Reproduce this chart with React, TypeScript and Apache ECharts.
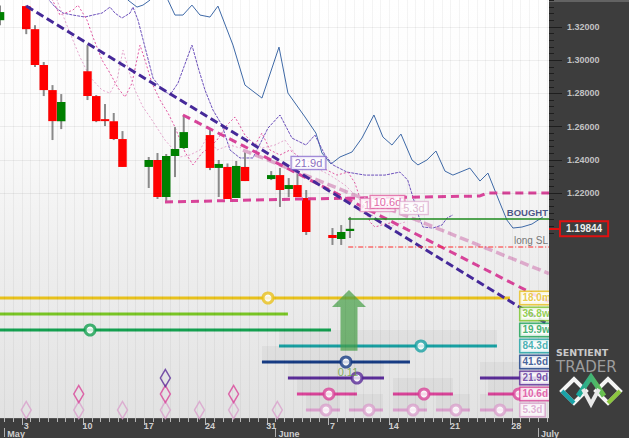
import React, { useEffect, useRef } from 'react';
import * as echarts from 'echarts';

// x = calendar day index (0 = Mon 3 May), y = price
const X_MIN = -3;
const X_MAX = 59.75;
const Y_MIN = 1.08446;
const Y_MAX = 1.33627;

// [day, open, close, low, high]
const candles: number[][] = [
  [-3, 1.3241, 1.329, 1.321, 1.333],
  [0, 1.3326, 1.3187, 1.3157, 1.333],
  [1, 1.3187, 1.2971, 1.2959, 1.3211],
  [2, 1.2971, 1.282, 1.2784, 1.2989],
  [3, 1.282, 1.2633, 1.2519, 1.285],
  [4, 1.2633, 1.2748, 1.2585, 1.2796],
  [7, 1.2934, 1.2784, 1.276, 1.3091],
  [8, 1.2784, 1.2633, 1.2627, 1.279],
  [9, 1.2645, 1.2633, 1.2603, 1.2736],
  [10, 1.2633, 1.2525, 1.2519, 1.2682],
  [11, 1.2525, 1.2357, 1.2357, 1.2573],
  [14, 1.2357, 1.2399, 1.223, 1.2417],
  [15, 1.2399, 1.2176, 1.2164, 1.2441],
  [16, 1.2176, 1.2423, 1.2146, 1.2435],
  [17, 1.2423, 1.2465, 1.2296, 1.2597],
  [18, 1.2471, 1.2567, 1.2465, 1.267],
  [21, 1.2549, 1.2351, 1.2338, 1.2579],
  [22, 1.2351, 1.2375, 1.2176, 1.2399],
  [23, 1.2357, 1.2164, 1.2164, 1.2378],
  [24, 1.217, 1.2363, 1.217, 1.2393],
  [25, 1.2357, 1.2272, 1.2272, 1.2447],
  [28, 1.2284, 1.2308, 1.2278, 1.2332],
  [29, 1.2308, 1.2218, 1.2116, 1.2351],
  [30, 1.2224, 1.2248, 1.2176, 1.229],
  [31, 1.2248, 1.2176, 1.2176, 1.2326],
  [32, 1.217, 1.1965, 1.1947, 1.2218],
  [35, 1.1947, 1.1929, 1.1887, 1.1989],
  [36, 1.1923, 1.1965, 1.1887, 1.2007],
  [37, 1.1971, 1.19844, 1.1929, 1.2056],
];
const lastPrice = 1.19844;

// thick dashed trend lines
const trendPurple = [[0, 1.33265], [59.75, 1.14048]];
const trendMagenta = [[17.91, 1.26699], [59.75, 1.15434]];
const trendPink = [[24.77, 1.2459], [59.75, 1.1715]];
const flatMagenta = [[15.86, 1.21458], [31.29, 1.21639], [45, 1.21759], [51.86, 1.2182], [52.66, 1.22], [59.75, 1.22]];

// thin cycle curves
const curveBlue = [
  [10.71, 1.3422], [11.63, 1.3362], [12.66, 1.332], [13.34, 1.3332], [14.14, 1.3362], [15.17, 1.3434],
  [16.2, 1.3362], [17.0, 1.3272], [17.91, 1.3272], [18.94, 1.3332], [19.86, 1.3272], [21.0, 1.326],
  [21.91, 1.3326], [23.63, 1.3091], [25.0, 1.285], [26.94, 1.2772], [28.89, 1.3079], [29.91, 1.2802],
  [31.86, 1.2658], [33.11, 1.2561], [33.8, 1.2441], [34.83, 1.2375], [35.86, 1.2417], [37.23, 1.2447],
  [38.37, 1.2531], [39.74, 1.267], [40.77, 1.2537], [41.8, 1.2489], [42.83, 1.2555], [44.09, 1.2399],
  [44.77, 1.2369], [45.8, 1.2399], [46.83, 1.2453], [47.86, 1.2332], [48.77, 1.2308], [50.71, 1.235],
  [51.86, 1.2272], [52.77, 1.232], [54.14, 1.214], [54.94, 1.2037], [55.63, 1.1989], [56.66, 1.1995],
  [57.8, 1.2013], [59.06, 1.2056],
];
const curvePurple = [
  [2.14, 1.3392], [3.29, 1.332], [4.2, 1.3284], [5.34, 1.3272], [6.71, 1.326], [7.63, 1.3272],
  [8.66, 1.3284], [9.57, 1.332], [10.14, 1.3284], [10.94, 1.3254], [11.86, 1.3284], [12.2, 1.332],
  [12.77, 1.3242], [13.57, 1.3079], [14.49, 1.2892], [15.29, 1.2838], [16.43, 1.279], [17.34, 1.2862],
  [18.94, 1.3091], [19.63, 1.2959], [20.43, 1.282], [21.34, 1.27], [22.37, 1.2609], [23.29, 1.2459],
  [24.43, 1.2411], [25.91, 1.2411], [27.63, 1.2591], [29.0, 1.267], [30.37, 1.2531], [31.97, 1.2489],
  [33.0, 1.2549], [34.14, 1.2429], [35.06, 1.2369], [36.66, 1.2326], [38.71, 1.2308], [41.0, 1.2308],
  [42.71, 1.2326], [43.6, 1.2278], [44.3, 1.2158], [44.89, 1.2056], [45.34, 1.1995], [46.49, 1.1989],
  [47.51, 1.2007], [48.09, 1.2049], [48.77, 1.2068],
];
const curveMagenta = [
  [2.71, 1.3392], [3.86, 1.3272], [5.34, 1.3302], [5.91, 1.3332], [6.94, 1.3242], [7.63, 1.3139],
  [8.66, 1.3001], [9.57, 1.2922], [10.49, 1.2832], [11.29, 1.2778], [12.09, 1.2862], [13.0, 1.3091],
  [13.57, 1.3001], [14.37, 1.2862], [15.29, 1.276], [16.2, 1.2682], [17.0, 1.2597], [18.14, 1.2447],
  [19.06, 1.2369], [20.09, 1.2441], [21.0, 1.2477], [21.8, 1.2519], [22.94, 1.2609], [23.86, 1.2658],
  [25.0, 1.2549], [26.14, 1.2489], [26.94, 1.2561], [27.86, 1.2459], [29.0, 1.2429], [30.14, 1.2459],
  [31.63, 1.2399], [33.0, 1.2381], [34.37, 1.2338], [35.51, 1.2308], [36.77, 1.2326], [37.57, 1.226],
  [38.14, 1.217], [38.71, 1.2116], [39.29, 1.2025], [39.86, 1.1995], [41.0, 1.2013], [42.14, 1.2025],
];
const curvePink = [
  [3.29, 1.3392], [5.0, 1.3163], [6.14, 1.3019], [7.29, 1.2898], [8.66, 1.282], [9.57, 1.2802],
  [10.37, 1.288], [11.06, 1.3061], [11.63, 1.2953], [12.43, 1.282], [13.34, 1.2718], [14.14, 1.2658],
  [15.86, 1.2519], [17.57, 1.2417], [18.71, 1.2429], [19.86, 1.2459], [20.66, 1.2537], [21.8, 1.2459],
  [23.29, 1.2489], [24.43, 1.2471], [25.57, 1.2519], [26.94, 1.2471], [28.43, 1.2489], [29.57, 1.2519],
  [30.83, 1.2429], [32.43, 1.2369], [34.71, 1.2308], [36.43, 1.2248], [38.14, 1.2158], [39.51, 1.2068],
  [40.66, 1.2013], [41.8, 1.2001], [43.29, 1.2025],
];

// trade lines
const boughtStart = 36.8;
const boughtPrice = 1.20434;
const stopPrice = 1.18747;

// floating tags in the price panel
const tagNames = ['21.9d', '10.6d', '10.6d', '5.3d'];
const tagDays = [32.26, 40.17, 41.29, 44.31];
const tagPrices = [1.2381, 1.2128, 1.2146, 1.211];

// x axis labels
const weekDays = [0, 7, 14, 21, 28, 35, 42, 49, 56];
const weekLabels = ['3', '10', '17', '24', '31', '7', '14', '21', '28'];
const monthDays = [-2.5, 28.5, 58.5];
const monthLabels = ['May', 'June', 'July'];
const priceLabels = [1.22, 1.24, 1.26, 1.28, 1.3, 1.32];

// cycle panel
const cycleNames = ['18.0m', '36.8w', '19.9w', '84.3d', '41.6d', '21.9d', '10.6d', '5.3d'];
// [row, start, end]
const cycleSegments = [
  [0, -3, 55.29], [1, -3, 29.91], [2, -3, 34.83], [3, 28.89, 53.8], [4, 26.94, 43.86],
  [5, 29.91, 40.89], [5, 51.86, 59.75], [6, 30.94, 37.8], [6, 41.91, 48.77], [6, 52.77, 59.75],
  [7, 31.97, 35.86], [7, 36.89, 40.77], [7, 41.91, 45.8], [7, 46.83, 50.71], [7, 51.86, 55.63],
];
// [row, day]
const cycleMarkers = [
  [0, 27.63], [2, 7.29], [3, 45.11], [4, 36.54], [5, 37.8], [6, 34.6], [6, 45.46], [6, 56.31],
  [7, 34.26], [7, 39.17], [7, 44.2], [7, 49.11], [7, 54.14],
];
const cycleDiamonds = [
  [7, 0], [7, 6], [7, 11], [7, 15.9], [7, 19.8], [7, 23.7], [7, 28.7],
  [6, 6], [6, 15.9], [6, 23.7], [5, 15.9],
];
const signalValue = '0.11';
const signalPos = [36.77, 5.13];
// [day, tipRow, headRow, baseRow]
const arrowData = [[36.89, 0, 1.06, 3.8]];

const cycleColors = ['#e8c11c', '#78c424', '#14a050', '#18a0a2', '#173c84', '#5a2c98', '#da4499', '#d9a0cc'];
const FONT = '"Liberation Sans", Arial, sans-serif';

function buildOption() {
  const halfDays: number[] = [];
  for (let d = -2.5; d < X_MAX; d += 1) halfDays.push(d);
  const minorPrices: number[] = [];
  for (let i = 0; i <= 35; i++) minorPrices.push(+(1.196 + i * 0.004).toFixed(3));
  const weekTicks = weekDays.map((d) => d - 0.5);

  const hiddenAxisBase = {
    axisLine: { show: false, onZero: false }, axisTick: { show: false }, axisLabel: { show: false }, splitLine: { show: false },
  };

  const tagColors = ['#6a4ab0', '#e07ab4', '#d9408f', '#d8a6c8'];
  const tagBorders = ['#8b6fd0', '#e490c0', '#e060a0', '#e0b2d2'];

  return {
    animation: false,
    backgroundColor: '#3d3d3d',
    textStyle: { fontFamily: FONT },
    grid: [
      {
        left: 0, top: 0, width: 549, height: 418, show: true, borderWidth: 0,
        backgroundColor: new echarts.graphic.LinearGradient(0, 0, 0, 1, [
          { offset: 0, color: '#ffffff' },
          { offset: 0.3, color: '#fbfbfb' },
          { offset: 0.62, color: '#eeeeee' },
          { offset: 1, color: '#e2e2e2' },
        ]),
      },
      { left: 0, top: 290, width: 549, height: 128, show: false },
    ],
    xAxis: [
      {
        type: 'value', gridIndex: 0, min: X_MIN, max: X_MAX, interval: 1, position: 'bottom', z: 5,
        axisLine: { show: true, onZero: false, lineStyle: { color: '#555555' } },
        axisTick: { show: true, customValues: halfDays, length: 4, lineStyle: { color: '#b8b8b8' } },
        axisLabel: {
          customValues: weekDays, margin: 3, color: '#cfcfcf', fontWeight: 'bold', fontSize: 9, fontFamily: FONT,
          formatter: (v: number) => weekLabels[weekDays.indexOf(Math.round(v))] ?? '',
        },
        splitLine: { show: true, lineStyle: { color: 'rgba(0,0,0,0.045)', width: 1 } },
      },
      {
        type: 'value', gridIndex: 0, min: X_MIN, max: X_MAX, position: 'bottom', offset: 10, z: 5,
        axisLine: { show: false, onZero: false },
        axisTick: { show: true, customValues: monthDays, length: 9, lineStyle: { color: '#b0b0b0' } },
        axisLabel: {
          customValues: monthDays, margin: 1, align: 'left', padding: [0, 0, 0, 3],
          showMinLabel: true, showMaxLabel: true,
          color: '#cfcfcf', fontWeight: 'bold', fontSize: 9, fontFamily: FONT,
          formatter: (v: number) => monthLabels[monthDays.indexOf(v)] ?? '',
        },
        splitLine: { show: false },
      },
      {
        type: 'value', gridIndex: 0, min: X_MIN, max: X_MAX, position: 'bottom', z: 5,
        axisLine: { show: false, onZero: false },
        axisTick: { show: true, customValues: weekTicks, length: 7, lineStyle: { color: '#b8b8b8' } },
        axisLabel: { show: false }, splitLine: { show: false },
      },
      { type: 'value', gridIndex: 1, min: X_MIN, max: X_MAX, ...hiddenAxisBase },
    ],
    yAxis: [
      {
        type: 'value', gridIndex: 0, min: Y_MIN, max: Y_MAX, position: 'right', z: 110,
        axisLine: { show: false, onZero: false },
        axisTick: { show: true, customValues: priceLabels, length: 13, lineStyle: { color: '#1e1e1e' } },
        axisLabel: {
          customValues: priceLabels, margin: 18, color: '#c2c2c2', fontWeight: 'bold', fontSize: 9, fontFamily: FONT,
          formatter: (v: number) => v.toFixed(5),
        },
        splitLine: { show: false },
      },
      {
        type: 'value', gridIndex: 0, min: Y_MIN, max: Y_MAX, position: 'right', z: 110,
        axisLine: { show: false, onZero: false },
        axisTick: { show: true, customValues: minorPrices, length: 5, lineStyle: { color: '#1e1e1e' } },
        axisLabel: { show: false }, splitLine: { show: false },
      },
      {
        type: 'value', gridIndex: 0, min: Y_MIN, max: Y_MAX, position: 'right', z: 115,
        axisLine: { show: false, onZero: false },
        axisTick: { show: true, customValues: [lastPrice], length: 12, lineStyle: { color: '#e01010', width: 2 } },
        axisLabel: {
          customValues: [lastPrice], margin: 12, color: '#eeeeee', fontWeight: 'bold', fontSize: 10, fontFamily: FONT,
          backgroundColor: '#3d3d3d', borderColor: '#e01010', borderWidth: 2, padding: [2, 5, 1, 5],
          formatter: (v: number) => v.toFixed(5),
        },
        splitLine: { show: false },
      },
      { type: 'value', gridIndex: 1, min: 0, max: 8, inverse: true, ...hiddenAxisBase },
    ],
    graphic: [
      { type: 'rect', z: 100, shape: { x: 549, y: 0, width: 80, height: 418 }, style: { fill: '#3d3d3d' }, silent: true },
      { type: 'line', z: 101, shape: { x1: 549, y1: 1, x2: 629, y2: 1 }, style: { stroke: '#8a8a8a', lineWidth: 1 } },
      {
        type: 'text', z: 120, x: 556, y: 347,
        style: { text: 'SENTIENT', fill: '#cacaca', font: 'bold 9.5px "DejaVu Sans", sans-serif' },
      },
      {
        type: 'text', z: 120, x: 556, y: 359,
        style: { text: 'TRADER', fill: '#9c9c9c', font: '15px "DejaVu Sans", sans-serif' },
      },
      {
        type: 'polygon', z: 120, shape: { points: [[562, 391], [574, 379], [586, 391], [574, 403]] },
        style: { fill: 'none', stroke: '#f4f4f4', lineWidth: 4 },
      },
      {
        type: 'polyline', z: 121, shape: { points: [[562, 391], [574, 403]] },
        style: { stroke: '#1aa3a8', lineWidth: 4 },
      },
      {
        type: 'polygon', z: 120, shape: { points: [[596, 391], [608, 379], [620, 391], [608, 403]] },
        style: { fill: 'none', stroke: '#f4f4f4', lineWidth: 4 },
      },
      {
        type: 'polyline', z: 121, shape: { points: [[608, 403], [620, 391]] },
        style: { stroke: '#8cc63f', lineWidth: 4 },
      },
      {
        type: 'polyline', z: 122, shape: { points: [[578, 396], [591, 377], [604, 396]] },
        style: {
          stroke: new echarts.graphic.LinearGradient(0, 0, 1, 0, [
            { offset: 0, color: '#17a7a0' }, { offset: 1, color: '#6cc04a' },
          ]),
          lineWidth: 5,
        },
      },
      {
        type: 'polyline', z: 122, shape: { points: [[583, 389], [591, 404], [599, 389]] },
        style: { stroke: '#e8e8e8', lineWidth: 4 },
      },
    ],
    series: [
      {
        type: 'line', xAxisIndex: 0, yAxisIndex: 0, data: curveBlue, symbol: 'none', z: 2, silent: true,
        lineStyle: { color: '#3f6aa8', width: 1 },
        markLine: {
          silent: true, symbol: 'none', label: { show: false },
          lineStyle: { color: 'rgba(0,0,0,0.06)', type: 'solid', width: 1 },
          data: priceLabels.map((v) => ({ yAxis: v })),
        },
      },
      { type: 'line', xAxisIndex: 0, yAxisIndex: 0, data: curvePurple, symbol: 'none', z: 2, silent: true, lineStyle: { color: '#6e52bd', width: 1, type: [3, 1] } },
      { type: 'line', xAxisIndex: 0, yAxisIndex: 0, data: curveMagenta, symbol: 'none', z: 2, silent: true, lineStyle: { color: '#e356a2', width: 1, type: [2, 2] } },
      { type: 'line', xAxisIndex: 0, yAxisIndex: 0, data: curvePink, symbol: 'none', z: 2, silent: true, lineStyle: { color: '#e6a8cf', width: 1, type: [2, 2] } },
      {
        type: 'custom', xAxisIndex: 0, yAxisIndex: 0, z: 3, clip: true, silent: true,
        data: candles, encode: { x: 0, y: [1, 2, 3, 4] },
        renderItem: (params: any, api: any) => {
          const t = api.value(0), o = api.value(1), c = api.value(2), l = api.value(3), h = api.value(4);
          const pO = api.coord([t, o]), pC = api.coord([t, c]), pL = api.coord([t, l]), pH = api.coord([t, h]);
          const w = api.size([1, 0])[0] * 0.97;
          const up = c >= o;
          return {
            type: 'group',
            children: [
              { type: 'line', shape: { x1: pH[0], y1: pH[1], x2: pL[0], y2: pL[1] }, style: { stroke: '#8a8a8a', lineWidth: 2 } },
              {
                type: 'rect',
                shape: { x: pO[0] - w / 2, y: Math.min(pO[1], pC[1]), width: w, height: Math.max(1.5, Math.abs(pO[1] - pC[1])) },
                style: { fill: up ? '#008000' : '#ff0000' },
              },
            ],
          };
        },
      },
      { type: 'line', xAxisIndex: 0, yAxisIndex: 0, data: flatMagenta, symbol: 'none', z: 4, silent: true, lineStyle: { color: '#d9449a', width: 3, type: [8, 5] } },
      { type: 'line', xAxisIndex: 0, yAxisIndex: 0, data: trendPink, symbol: 'none', z: 4, silent: true, lineStyle: { color: '#ddaacb', width: 3.5, type: [9, 4] } },
      { type: 'line', xAxisIndex: 0, yAxisIndex: 0, data: trendMagenta, symbol: 'none', z: 4, silent: true, lineStyle: { color: '#d8449a', width: 3, type: [8, 5] } },
      { type: 'line', xAxisIndex: 0, yAxisIndex: 0, data: trendPurple, symbol: 'none', z: 4, silent: true, lineStyle: { color: '#46299a', width: 3, type: [8, 4] } },
      {
        type: 'line', xAxisIndex: 0, yAxisIndex: 0, data: [[boughtStart, boughtPrice], [X_MAX, boughtPrice]],
        symbol: 'none', z: 5, silent: true, lineStyle: { color: '#1c8a1c', width: 1.5 },
      },
      {
        type: 'line', xAxisIndex: 0, yAxisIndex: 0, data: [[boughtStart, stopPrice], [X_MAX, stopPrice]],
        symbol: 'none', z: 5, silent: true, lineStyle: { color: '#ff2a2a', width: 1, type: [5, 2, 1, 2] },
      },
      {
        type: 'scatter', xAxisIndex: 0, yAxisIndex: 0, z: 6, silent: true, symbolSize: 0.1,
        itemStyle: { color: 'rgba(0,0,0,0)' },
        data: [
          { value: [X_MAX, boughtPrice], label: { formatter: 'BOUGHT', color: '#1f2d6b', fontWeight: 'bold', fontSize: 9.5 } },
          { value: [X_MAX, stopPrice], label: { formatter: 'long SL', color: '#555555', fontSize: 10 } },
        ],
        label: { show: true, position: [-1, -1], align: 'right', verticalAlign: 'bottom', fontFamily: FONT },
      },
      {
        type: 'scatter', xAxisIndex: 0, yAxisIndex: 0, z: 7, silent: true, symbolSize: 0.1,
        itemStyle: { color: 'rgba(0,0,0,0)' },
        data: tagNames.map((n, i) => ({
          value: [tagDays[i], tagPrices[i]],
          label: {
            formatter: n, color: tagColors[i], borderColor: tagBorders[i],
          },
        })),
        label: {
          show: true, position: 'inside', fontSize: 11, fontFamily: FONT, backgroundColor: '#ffffff',
          borderWidth: 1.3, padding: [1, 3, 0, 3],
        },
      },
      // cycle panel
      {
        type: 'custom', xAxisIndex: 3, yAxisIndex: 3, z: 3, clip: true, silent: true,
        data: cycleSegments, encode: { x: [1, 2], y: 0 },
        renderItem: (params: any, api: any) => {
          const row = api.value(0), s = api.value(1), e = api.value(2);
          const a = api.coord([s, row + 0.5]);
          const b = api.coord([e, row + 0.5]);
          const top = api.coord([s, row - 0.5]);
          const children: any[] = [];
          if (row >= 3) {
            children.push({ type: 'rect', shape: { x: a[0], y: top[1], width: b[0] - a[0], height: a[1] - top[1] }, style: { fill: 'rgba(0,0,0,0.035)' } });
          }
          children.push({ type: 'line', shape: { x1: a[0], y1: a[1], x2: b[0], y2: b[1] }, style: { stroke: cycleColors[row], lineWidth: 3 } });
          return { type: 'group', children };
        },
      },
      {
        type: 'custom', xAxisIndex: 3, yAxisIndex: 3, z: 4, clip: true, silent: true,
        data: arrowData, encode: { x: 0, y: [1, 3] },
        renderItem: (params: any, api: any) => {
          const t = api.value(0);
          const tip = api.coord([t, api.value(1)]);
          const head = api.coord([t, api.value(2)]);
          const base = api.coord([t, api.value(3)]);
          const hw = 17, sw = 8.5, x = tip[0];
          return {
            type: 'polygon',
            shape: { points: [[x, tip[1]], [x + hw, head[1]], [x + sw, head[1]], [x + sw, base[1]], [x - sw, base[1]], [x - sw, head[1]], [x - hw, head[1]]] },
            style: { fill: 'rgba(72,160,72,0.72)' },
          };
        },
      },
      {
        type: 'scatter', xAxisIndex: 3, yAxisIndex: 3, z: 5, silent: true,
        symbol: 'diamond', symbolSize: [10, 17],
        data: cycleDiamonds.map(([row, d]) => ({
          value: [d, row + 0.5],
          itemStyle: { color: 'rgba(255,255,255,0)', borderColor: cycleColors[row], borderWidth: 1.5 },
        })),
      },
      {
        type: 'scatter', xAxisIndex: 3, yAxisIndex: 3, z: 6, silent: true,
        symbol: 'circle', symbolSize: 10,
        data: cycleMarkers.map(([row, d]) => ({
          value: [d, row + 0.5],
          itemStyle: { color: '#ffffff', borderColor: cycleColors[row], borderWidth: 3 },
        })),
      },
      {
        type: 'scatter', xAxisIndex: 3, yAxisIndex: 3, z: 7, silent: true, symbolSize: 0.1,
        itemStyle: { color: 'rgba(0,0,0,0)' },
        data: [{ value: signalPos }],
        label: { show: true, position: 'inside', formatter: signalValue, color: '#6a9f3c', fontSize: 11, fontFamily: FONT },
      },
      {
        type: 'scatter', xAxisIndex: 3, yAxisIndex: 3, z: 8, silent: true, symbolSize: 0.1,
        itemStyle: { color: 'rgba(0,0,0,0)' },
        data: cycleNames.map((n, i) => ({
          value: [X_MAX, i + 0.5],
          label: { formatter: n, color: cycleColors[i], borderColor: cycleColors[i] },
        })),
        label: {
          show: true, position: [-28.5, 0], align: 'left', verticalAlign: 'middle',
          fontSize: 10, fontWeight: 'bold', fontFamily: FONT, backgroundColor: '#ffffff',
          borderWidth: 1.5, padding: [1, 2, 0, 2], lineHeight: 11,
        },
      },
    ],
  };
}

export default function App() {
  const ref = useRef<HTMLDivElement>(null);
  useEffect(() => {
    document.body.style.margin = '0';
    const chart = echarts.init(ref.current as HTMLDivElement, undefined, { renderer: 'svg' });
    chart.setOption(buildOption() as any);
    return () => chart.dispose();
  }, []);
  return <div ref={ref} style={{ position: 'absolute', left: 0, top: 0, width: 629, height: 438 }} />;
}
